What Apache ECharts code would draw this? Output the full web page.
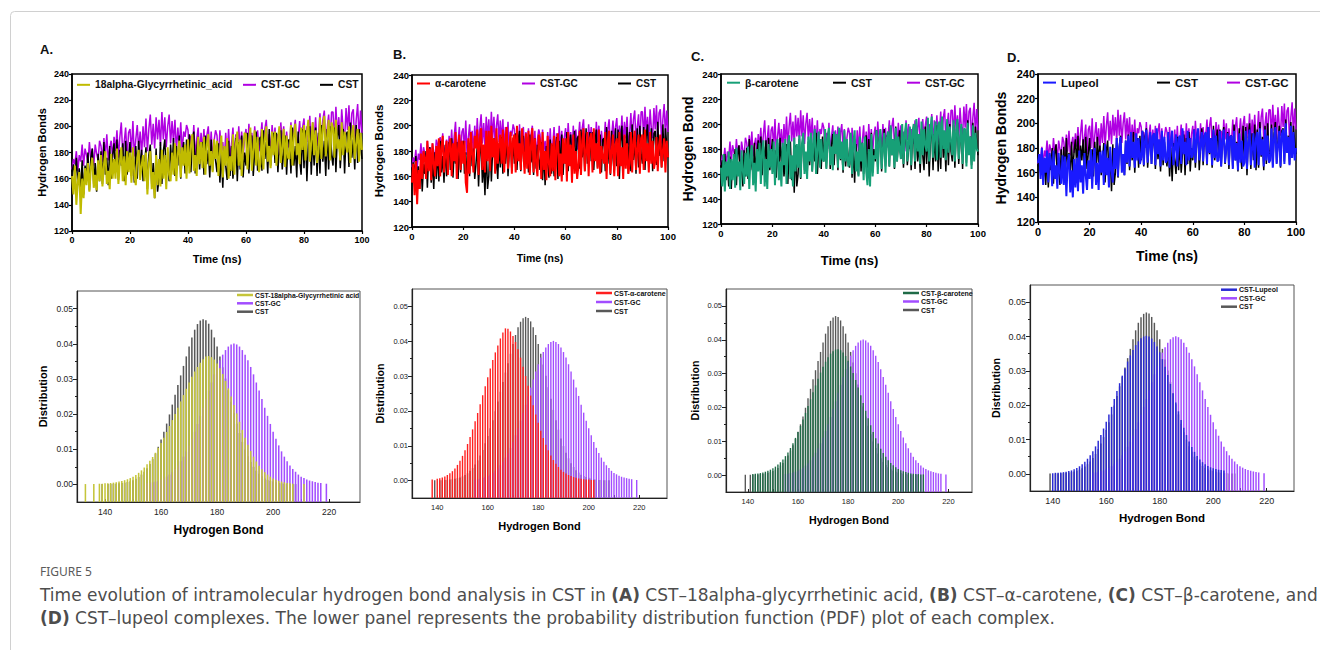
<!DOCTYPE html>
<html><head><meta charset="utf-8">
<script src="https://cdn.jsdelivr.net/npm/echarts@6/dist/echarts.min.js"></script>
<style>html,body{margin:0;padding:0;background:#fff}#c{width:1320px;height:650px}</style>
</head><body><div id="c"></div>
<script>
// ---------------- DATA ----------------
const TIME_STEP = 0.5; // ns between samples (0..100 ns)
const timeTicks = [0, 20, 40, 60, 80, 100];
const hbondTicks = [120, 140, 160, 180, 200, 220, 240];
const distTicks = [0, 0.01, 0.02, 0.03, 0.04, 0.05];
const distMinorTicks = [0.005, 0.015, 0.025, 0.035, 0.045];
const bondTicks = [140, 160, 180, 200, 220];
const bondMinorTicks = [140, 150, 160, 170, 180, 190, 200, 210, 220];

const timeCSTGC = [
167,175,171,181,166,178,173,186,170,183, 178,172,188,175,183,170,186,179,174,189,
185,173,191,177,194,174,183,189,176,192, 181,197,176,192,203,178,188,199,175,195,
198,180,204,177,190,201,182,196,178,200, 184,206,181,198,209,186,202,183,207,190,
205,185,211,190,207,184,200,209,187,204, 188,205,181,199,184,203,180,196,192,201,
197,177,193,180,201,176,190,199,178,195, 182,198,175,193,200,179,196,174,189,197,
193,174,197,180,188,172,195,178,198,176, 186,199,175,194,178,200,181,196,176,191,
198,179,202,185,195,177,200,183,197,181, 190,203,180,198,205,182,194,179,201,186,
199,181,194,178,203,187,200,180,196,184, 185,203,182,197,205,181,192,204,186,199,
206,184,200,188,208,183,203,190,207,185, 193,210,186,205,212,187,199,209,185,211,
211,189,215,194,207,187,213,198,190,214, 197,216,188,210,213,186,205,217,191,212, 195];

const timeCST = [
165,171,160,176,155,168,150,174,148,170, 162,180,151,176,183,155,172,150,179,158,
181,156,188,163,176,155,185,160,178,187, 165,190,159,182,170,187,158,189,163,176,
188,162,179,157,185,160,189,168,182,158, 170,184,152,178,186,155,172,145,183,150,
160,188,156,181,190,163,175,158,186,167, 191,162,185,170,193,160,180,188,164,190,
170,194,165,189,196,164,183,192,167,186, 188,163,193,171,182,161,190,166,185,174,
165,187,157,180,153,184,170,159,189,162, 185,160,176,191,158,188,167,193,161,180,
170,195,164,187,193,162,181,196,166,190, 192,166,197,175,188,164,198,170,184,195,
172,195,165,186,197,167,181,193,163,189, 190,164,199,170,185,161,196,175,163,198,
168,197,158,188,200,163,192,170,199,162, 195,164,201,173,189,162,198,167,200,178,
170,199,165,192,201,168,185,198,164,194, 196,169,203,176,190,167,201,172,198,185, 175];

const timeGlycyrrhetinic = [
162,148,170,140,158,165,133,160,145,168, 155,172,150,168,176,153,163,151,174,158,
178,154,170,181,156,166,152,179,160,175, 160,183,156,172,184,158,177,155,181,165,
180,157,184,163,155,176,182,159,170,178, 158,180,148,171,181,152,165,145,178,155,
175,154,182,160,178,152,184,163,158,180, 163,187,158,179,189,161,184,170,186,160,
190,164,185,194,166,178,162,192,171,188, 168,192,163,186,194,170,181,165,190,175,
189,162,180,193,161,185,170,191,160,177, 166,194,163,186,196,170,190,162,183,195,
194,167,188,199,166,182,197,170,192,165, 172,198,167,190,200,173,185,168,196,178,
196,170,189,200,172,184,198,169,193,176, 175,201,170,192,202,178,187,171,199,182,
201,174,195,205,173,188,203,178,197,172, 180,207,175,198,208,177,192,205,174,203,
199,176,205,183,190,174,203,178,196,185, 180,200,172,193,201,175,187,198,173,195, 182];

const timeAlphaCarotene = [
155,170,145,172,138,165,150,178,158,180, 175,158,188,164,182,157,186,170,160,184,
168,190,160,183,192,163,178,188,161,185, 190,160,186,172,195,158,182,193,165,188,
170,188,155,147,190,162,195,178,163,192, 182,197,161,190,198,165,185,163,196,172,
196,164,200,175,190,162,198,170,185,193, 170,197,163,188,199,166,182,195,162,190,
193,163,200,172,186,165,198,178,162,194, 166,196,161,185,198,163,190,170,160,193,
188,158,195,165,180,157,192,170,160,186, 164,192,157,183,194,160,178,156,190,170,
190,156,195,168,185,155,193,162,180,158, 168,196,161,188,198,164,180,195,160,190,
194,163,198,172,186,166,197,162,184,175, 170,195,158,188,196,162,180,193,160,185,
190,160,195,168,183,158,193,166,186,162, 170,195,163,188,196,165,182,193,162,190,
193,165,197,172,186,163,195,170,188,166, 172,191,164,185,193,167,180,190,163,188, 175];

const timeBetaCarotene = [
165,150,176,146,170,158,178,148,172,155, 176,149,181,158,170,147,179,163,152,177,
158,182,148,175,183,151,169,146,180,162, 185,152,178,187,150,172,148,184,165,180,
160,186,151,179,188,155,170,150,185,167, 188,152,182,191,156,175,150,189,162,184,
165,191,157,184,193,160,178,156,190,170, 193,162,187,196,160,180,194,165,188,172,
170,196,164,188,197,167,182,163,194,176, 192,165,197,172,186,163,195,170,188,166,
168,193,160,185,195,162,178,158,190,170, 185,155,190,162,151,180,150,192,158,175,
172,195,160,186,196,164,180,193,161,188, 194,166,199,175,188,165,197,170,190,180,
172,200,168,192,201,170,185,198,167,194, 200,170,204,178,192,168,202,175,196,183,
178,205,170,196,206,173,190,202,171,199, 202,173,206,180,195,171,204,177,198,186,
175,203,170,194,204,172,188,200,168,196, 196,166,201,175,190,164,199,170,193,180, 178];

const timeLupeol = [
168,175,155,180,150,172,160,178,152,176, 170,149,178,155,166,147,176,160,151,174,
150,173,141,168,175,144,162,140,171,148, 172,145,178,152,166,143,176,158,146,170,
155,179,147,172,180,150,168,146,177,160, 178,150,183,158,172,148,181,162,152,180,
163,188,157,180,189,160,175,158,186,168, 190,165,193,172,185,164,192,170,188,167,
172,194,166,186,195,168,182,193,167,190, 192,166,196,175,187,165,194,170,189,168,
170,193,164,186,194,166,180,191,165,188, 190,167,196,175,185,166,194,170,188,172,
174,195,168,188,196,170,183,193,169,190, 193,167,197,176,188,166,195,172,190,169,
170,194,165,186,195,168,180,192,166,189, 190,163,194,170,184,162,192,168,186,165,
168,194,163,185,195,166,180,192,164,188, 193,166,196,174,187,165,195,170,190,168,
170,196,164,188,197,167,182,194,165,191, 195,167,200,176,189,166,198,172,193,170, 180];

// Histograms: one value per integer hydrogen-bond bin, starting at the given bin (null = empty bin)
const histCSTStart = 139;
const histCST = [0.0001,null,0.0001,0.0001,0.0002,0.0002,0.0003,0.0004,0.0005,0.0007,0.0009,
0.0012,0.0016,0.0021,0.0028,0.0036,0.0046,0.0058,0.0072,0.0088,0.0107,
0.0128,0.0150,0.0173,0.0199,0.0227,0.0255,0.0283,0.0310,0.0337,0.0364,
0.0392,0.0418,0.0440,0.0456,0.0466,0.0470,0.0467,0.0457,0.0440,0.0418,
0.0392,0.0364,0.0333,0.0301,0.0268,0.0235,0.0203,0.0173,0.0146,0.0121,
0.0099,0.0080,0.0064,0.0050,0.0039,0.0030,0.0023,0.0017,0.0013,0.0010,
0.0008,0.0006,0.0004,0.0003,0.0002,0.0002,0.0001,0.0001,0.0001];

const histCSTGCStart = 155;
const histCSTGC = [0.0003,0.0004,0.0006,0.0008,0.0010,0.0013,0.0017,0.0022,0.0028,0.0035,0.0044,
0.0054,0.0066,0.0079,0.0094,0.0111,0.0130,0.0150,0.0172,0.0195,0.0218,
0.0243,0.0267,0.0290,0.0313,0.0334,0.0353,0.0369,0.0382,0.0392,0.0398,
0.0401,0.0398,0.0392,0.0382,0.0369,0.0353,0.0334,0.0313,0.0290,0.0267,
0.0243,0.0218,0.0195,0.0172,0.0150,0.0130,0.0111,0.0094,0.0079,0.0066,
0.0054,0.0044,0.0036,0.0028,0.0022,0.0018,0.0014,0.0011,0.0009,0.0007,
0.0005,0.0004,null,0.0002];

const histGlycyrrhetinicStart = 133;
const histGlycyrrhetinic = [0.0001,null,null,0.0001,null,0.0002,0.0002,
0.0003,0.0003,0.0004,0.0005,0.0006,0.0008,0.0010,0.0012,0.0015,0.0018,
0.0022,0.0027,0.0033,0.0040,0.0048,0.0057,0.0067,0.0078,0.0090,0.0104,
0.0118,0.0133,0.0149,0.0166,0.0183,0.0200,0.0218,0.0236,0.0254,0.0272,
0.0290,0.0306,0.0321,0.0334,0.0346,0.0356,0.0364,0.0365,0.0362,0.0355,
0.0344,0.0330,0.0314,0.0294,0.0273,0.0250,0.0226,0.0202,0.0178,0.0155,
0.0133,0.0113,0.0095,0.0079,0.0065,0.0053,0.0043,0.0035,0.0028,0.0022,
0.0017,0.0013,0.0010,0.0008,0.0006,0.0004,0.0003,0.0002,null,null,null,0.0001];

const histAlphaCaroteneStart = 138;
const histAlphaCarotene = [0.0003,null,
0.0005,0.0007,0.0009,0.0012,0.0016,0.0021,0.0027,0.0035,0.0045,0.0057,
0.0071,0.0087,0.0105,0.0125,0.0147,0.0170,0.0194,0.0219,0.0245,0.0271,
0.0297,0.0322,0.0346,0.0368,0.0388,0.0408,0.0425,0.0437,0.0436,0.0428,
0.0415,0.0398,0.0377,0.0353,0.0327,0.0300,0.0272,0.0244,0.0216,0.0190,
0.0166,0.0143,0.0122,0.0103,0.0087,0.0072,0.0059,0.0048,0.0039,0.0031,
0.0025,0.0020,0.0016,0.0013,0.0010,0.0008,0.0006,0.0005,0.0004,0.0003,
0.0003,0.0002,0.0002];

const histBetaCaroteneStart = 142;
const histBetaCarotene = [0.0003,0.0004,0.0005,0.0006,0.0008,0.0010,0.0013,0.0016,
0.0020,0.0025,0.0031,0.0038,0.0046,0.0056,0.0067,0.0080,0.0094,0.0110,
0.0127,0.0145,0.0164,0.0184,0.0204,0.0224,0.0245,0.0265,0.0285,0.0303,
0.0320,0.0335,0.0348,0.0359,0.0366,0.0371,0.0372,0.0369,0.0362,0.0352,
0.0338,0.0321,0.0302,0.0281,0.0259,0.0236,0.0213,0.0190,0.0168,0.0147,
0.0127,0.0109,0.0093,0.0078,0.0065,0.0054,0.0044,0.0036,0.0029,0.0023,
0.0018,0.0014,0.0011,0.0009,0.0007,0.0005,0.0004,0.0003,0.0003,0.0002,0.0002];

const histLupeolStart = 140;
const histLupeol = [0.0002,0.0003,0.0003,0.0004,0.0005,0.0006,0.0008,0.0010,0.0013,0.0017,
0.0022,0.0028,0.0035,0.0044,0.0054,0.0066,0.0080,0.0096,0.0113,0.0132,
0.0152,0.0173,0.0195,0.0218,0.0241,0.0264,0.0286,0.0307,0.0327,0.0345,
0.0361,0.0375,0.0386,0.0395,0.0400,0.0402,0.0400,0.0394,0.0384,0.0371,
0.0354,0.0334,0.0312,0.0288,0.0262,0.0235,0.0208,0.0182,0.0157,0.0134,
0.0113,0.0094,0.0078,0.0064,0.0052,0.0042,0.0034,0.0028,0.0023,0.0019,
0.0016,0.0014,0.0012,0.0011,0.0010];

// ---------------- CHART ----------------
const FONT = '"Liberation Sans", Arial, Helvetica, sans-serif';
const CAP_FONT = '"DejaVu Sans", "Noto Sans", sans-serif';
const T_MIN = 0, T_MAX = 100, HB_MIN = 120, HB_MAX = 240;
const D_MIN = -0.005, D_MAX = 0.055;
const stripPrefix = n => n.split('|')[1];
const timeData = vals => vals.map((v, i) => [i * TIME_STEP, v]);
const histData = (start, vals) => { const o = []; vals.forEach((v, i) => { if (v !== null) o.push([start + i, v]); }); return o; };

const COL_GC_LINE = '#b000e2', COL_CST_LINE = '#000000';
const COL_GC_BAR = '#a24dff', COL_CST_BAR = '#585858';

const topPanels = [
 {key:'A', letter:'A.', lpos:[40,43], grid:{left:72,top:74,width:290,height:157}, lig:'18alpha-Glycyrrhetinic_acid', data:timeGlycyrrhetinic, color:'#c0bb00',
  yName:'Hydrogen Bonds', yNameSize:11, yNameGap:25, xNameSize:11, xNameGap:22, tick:9, legY:86, legSize:10.3, items:[['lig',77],['gc',243],['cst',320]]},
 {key:'B', letter:'B.', lpos:[393,48], grid:{left:412,top:75,width:256,height:152}, lig:'\u03b1-carotene', data:timeAlphaCarotene, color:'#ff0000',
  yName:'Hydrogen Bonds', yNameSize:11.5, yNameGap:27, xNameSize:10.5, xNameGap:25, tick:9.5, legY:84.5, legSize:10, items:[['lig',417],['gc',522],['cst',618]]},
 {key:'C', letter:'C.', lpos:[691,50], grid:{left:721,top:74,width:257,height:150}, lig:'\u03b2-carotene', data:timeBetaCarotene, color:'#17a077',
  yName:'Hydrogen Bond', yNameSize:14, yNameGap:26, xNameSize:13, xNameGap:30, tick:9.5, legY:83.5, legSize:10.5, items:[['lig',727],['cst',833],['gc',907]]},
 {key:'D', letter:'D.', lpos:[1007,51], grid:{left:1038,top:74,width:258,height:148}, lig:'Lupeol', data:timeLupeol, color:'#1a1aff',
  yName:'Hydrogen Bonds', yNameSize:14, yNameGap:30, xNameSize:14, xNameGap:27, tick:11, legY:83.5, legSize:11.5, items:[['lig',1043],['cst',1157],['gc',1227]]}
];

const bottomPanels = [
 {key:'A', grid:{left:77,top:291,width:283,height:211}, xMin:130, xMax:231, lig:'CST-18alpha-Glycyrrhetinic acid', start:histGlycyrrhetinicStart, hist:histGlycyrrhetinic, color:'#c5c53a',
  yNameSize:11, yNameGap:29, xNameSize:12, xNameGap:22, tick:8.5, legX:237, legYs:[296,304.3,312.7], legSize:6.8},
 {key:'B', grid:{left:412,top:289,width:255,height:209}, xMin:130, xMax:231, lig:'CST-\u03b1-carotene', start:histAlphaCaroteneStart, hist:histAlphaCarotene, color:'#ff1f1f',
  yNameSize:10.7, yNameGap:27, xNameSize:11, xNameGap:22, tick:7.5, legX:596, legYs:[294,303,312], legSize:7},
 {key:'C', grid:{left:726,top:289,width:246,height:203}, xMin:131.3, xMax:229.4, lig:'CST-\u03b2-carotene', start:histBetaCaroteneStart, hist:histBetaCarotene, color:'#1f6b47',
  yNameSize:10.7, yNameGap:26, xNameSize:10.7, xNameGap:22, tick:7.5, legX:903, legYs:[294,302.5,311], legSize:7},
 {key:'D', grid:{left:1030,top:285,width:264,height:206}, xMin:131.5, xMax:230.2, lig:'CST-Lupeol', start:histLupeolStart, hist:histLupeol, color:'#2a2ad4',
  yNameSize:10.7, yNameGap:29, xNameSize:11.5, xNameGap:21, tick:9, legX:1221, legYs:[290.7,299.3,307.7], legSize:7}
];

const grids = [], xAxes = [], yAxes = [], series = [], legends = [], titles = [];
const boldName = (size) => ({fontSize:size, fontWeight:'bold', color:'#000', fontFamily:FONT});

topPanels.forEach(p => {
  const gi = grids.length;
  grids.push(Object.assign({show:true, borderColor:'#000', borderWidth:1.5, backgroundColor:'transparent'}, p.grid));
  const xi = xAxes.length, yi = yAxes.length;
  xAxes.push({gridIndex:gi, type:'value', min:T_MIN, max:T_MAX, interval:20,
    axisLine:{show:true, onZero:false, lineStyle:{color:'#000', width:1.5}},
    axisTick:{show:true, length:3, lineStyle:{color:'#000', width:1.2}},
    axisLabel:{fontSize:p.tick, fontWeight:'bold', color:'#000', fontFamily:FONT, margin:4, customValues:timeTicks},
    splitLine:{show:false}, name:'Time (ns)', nameLocation:'middle', nameGap:p.xNameGap, nameTextStyle:boldName(p.xNameSize)});
  yAxes.push({gridIndex:gi, type:'value', min:HB_MIN, max:HB_MAX, interval:20,
    axisLine:{show:true, onZero:false, lineStyle:{color:'#000', width:1.5}},
    axisTick:{show:true, length:3, lineStyle:{color:'#000', width:1.2}},
    axisLabel:{fontSize:p.tick, fontWeight:'bold', color:'#000', fontFamily:FONT, margin:3, customValues:hbondTicks},
    splitLine:{show:false}, name:p.yName, nameLocation:'middle', nameGap:p.yNameGap, nameTextStyle:boldName(p.yNameSize)});
  const names = {lig: p.key+'t|'+p.lig, gc: p.key+'t|CST-GC', cst: p.key+'t|CST'};
  const mk = (name, data, color, w) => ({type:'line', name, xAxisIndex:xi, yAxisIndex:yi, data:timeData(data),
    showSymbol:false, symbol:'none', animation:false, lineStyle:{color, width:w, join:'bevel'}, itemStyle:{color}, silent:true});
  series.push(mk(names.gc, timeCSTGC, COL_GC_LINE, 1.5));
  series.push(mk(names.cst, timeCST, COL_CST_LINE, 1.5));
  series.push(mk(names.lig, p.data, p.color, 2));
  p.items.forEach(([k, x]) => {
    legends.push({data:[names[k]], left:x, top:p.legY - p.legSize*0.6, orient:'horizontal', selectedMode:false,
      icon:'rect', itemWidth:13, itemHeight:2, itemGap:0, padding:0, formatter:stripPrefix,
      textStyle:{fontSize:p.legSize, fontWeight:'bold', color:'#111', fontFamily:FONT}});
  });
  titles.push({text:p.letter, left:p.lpos[0], top:p.lpos[1], padding:0, textStyle:{fontSize:13, fontWeight:'bold', color:'#111', fontFamily:FONT}});
});

bottomPanels.forEach(p => {
  const gi = grids.length;
  grids.push(Object.assign({show:true, borderColor:'#555', borderWidth:1, backgroundColor:'transparent'}, p.grid));
  const xi = xAxes.length, yi = yAxes.length;
  xAxes.push({gridIndex:gi, type:'value', min:p.xMin, max:p.xMax,
    axisLine:{show:true, onZero:false, lineStyle:{color:'#222', width:1.2}},
    axisTick:{show:true, inside:true, length:3, customValues:bondMinorTicks, lineStyle:{color:'#222', width:1}},
    axisLabel:{fontSize:p.tick, color:'#222', fontFamily:FONT, margin:5, customValues:bondTicks},
    splitLine:{show:false}, name:'Hydrogen Bond', nameLocation:'middle', nameGap:p.xNameGap, nameTextStyle:boldName(p.xNameSize)});
  yAxes.push({gridIndex:gi, type:'value', min:D_MIN, max:D_MAX, position:'left',
    axisLine:{show:true, onZero:false, lineStyle:{color:'#222', width:1.2}},
    axisTick:{show:true, length:4, customValues:distTicks, lineStyle:{color:'#222', width:1}},
    axisLabel:{fontSize:p.tick, color:'#222', fontFamily:FONT, margin:4, customValues:distTicks, formatter:v => v.toFixed(2)},
    splitLine:{show:false}, name:'Distribution', nameLocation:'middle', nameGap:p.yNameGap, nameTextStyle:boldName(p.yNameSize)});
  yAxes.push({gridIndex:gi, type:'value', min:D_MIN, max:D_MAX, position:'left',
    axisLine:{show:false, onZero:false}, axisLabel:{show:false}, splitLine:{show:false},
    axisTick:{show:true, length:2, customValues:distMinorTicks, lineStyle:{color:'#222', width:1}}});
  const names = [p.key+'b|'+p.lig, p.key+'b|CST-GC', p.key+'b|CST'];
  const mk = (name, start, vals, color) => ({type:'custom', name, xAxisIndex:xi, yAxisIndex:yi, animation:false, silent:true,
    itemStyle:{color}, data:histData(start, vals), encode:{x:0, y:1},
    renderItem:(params, api) => {
      const x = api.value(0), y = api.value(1);
      const top = api.coord([x, y]);
      const base = api.coord([x, D_MIN]);
      const w = api.size([1, 0])[0] * 0.55;
      return {type:'rect', shape:{x:top[0]-w/2, y:top[1], width:w, height:base[1]-top[1]}, style:{fill:color}};
    }});
  series.push(mk(names[2], histCSTStart, histCST, COL_CST_BAR));
  series.push(mk(names[1], histCSTGCStart, histCSTGC, COL_GC_BAR));
  series.push(mk(names[0], p.start, p.hist, p.color));
  const cols = [p.color, COL_GC_BAR, COL_CST_BAR];
  names.forEach((n, i) => {
    legends.push({data:[{name:n, itemStyle:{color:cols[i]}}], left:p.legX, top:p.legYs[i]-4.5, selectedMode:false,
      icon:'rect', itemWidth:16, itemHeight:2.5, itemGap:0, padding:0, formatter:stripPrefix,
      textStyle:{fontSize:p.legSize, fontWeight:'bold', color:'#111', fontFamily:FONT, padding:[0,0,0,-3]}});
  });
});

const CAP_SIZE = 17, CAP_COLOR = '#4d4d4d';
titles.push({text:'FIGURE 5', left:40, top:565, padding:0, textStyle:{fontSize:12, fontWeight:'normal', color:'#5b5b5b', fontFamily:'"Noto Sans", sans-serif'}});
const capRich = {b:{fontWeight:'bold', fontSize:CAP_SIZE, color:CAP_COLOR, fontFamily:CAP_FONT}};
titles.push({text:'Time evolution of intramolecular hydrogen bond analysis in CST in {b|(A)} CST\u201318alpha-glycyrrhetinic acid, {b|(B)} CST\u2013\u03b1-carotene, {b|(C)} CST\u2013\u03b2-carotene, and',
  left:40, top:586, padding:0, textStyle:{fontSize:CAP_SIZE, fontWeight:'normal', color:CAP_COLOR, fontFamily:CAP_FONT, rich:capRich}});
titles.push({text:'{b|(D)} CST\u2013lupeol complexes. The lower panel represents the probability distribution function (PDF) plot of each complex.',
  left:40, top:609, padding:0, textStyle:{fontSize:CAP_SIZE, fontWeight:'normal', color:CAP_COLOR, fontFamily:CAP_FONT, rich:capRich}});

const chart = echarts.init(document.getElementById('c'), null, {renderer:'svg'});
chart.setOption({
  animation:false, backgroundColor:'#fff',
  title:titles, grid:grids, xAxis:xAxes, yAxis:yAxes, legend:legends, series,
  graphic:[{type:'rect', silent:true, z:-10, shape:{x:10.5, y:11.5, width:1400, height:700, r:4}, style:{fill:'none', stroke:'#d0d0d0', lineWidth:1}}]
});
</script></body></html>
